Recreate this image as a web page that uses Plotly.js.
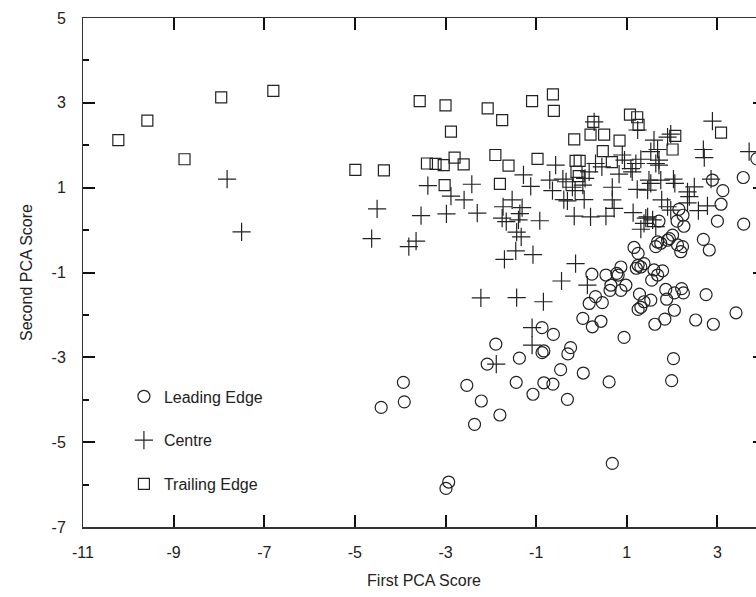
<!DOCTYPE html>
<html><head><meta charset="utf-8">
<script src="https://cdn.plot.ly/plotly-3.0.1.min.js"></script>
<style>html,body{margin:0;padding:0;overflow:hidden;background:#fff}#chart{width:800px;height:597px}</style>
</head><body><div id="chart"></div>
<script>
// Leading Edge (circles)
const leadingX = [-0.87,-0.62,-1.89,-1.37,-0.87,-0.83,-2.08,-3.93,-3.91,-4.42,-2.53,-2.21,-1.44,-1.07,-0.83,-0.63,-1.80,-2.36,-0.31,0.61,1.99,0.68,-2.93,-2.99,-0.46,0.04,-0.24,-0.30,2.03,3.41,2.75,2.52,2.91,1.62,1.84,0.94,0.03,0.24,0.43,0.31,0.17,0.46,1.28,1.38,1.25,1.31,1.53,1.86,1.88,2.05,2.21,2.25,2.05,0.87,0.78,0.81,0.54,0.98,0.65,0.63,0.87,0.23,1.25,1.31,1.21,1.38,1.60,1.68,1.79,1.55,1.16,1.25,1.68,1.64,1.75,1.90,2.01,1.94,2.12,2.23,2.19,2.69,2.82,2.15,2.24,2.11,2.26,2.89,3.57,3.12,3.08,3.00,3.58,3.87,1.71];
const leadingY = [-2.30,-2.46,-2.69,-3.02,-2.89,-2.85,-3.16,-3.59,-4.05,-4.18,-3.66,-4.03,-3.59,-3.87,-3.60,-3.63,-4.36,-4.58,-3.99,-3.58,-3.55,-5.50,-5.94,-6.09,-3.29,-3.37,-2.77,-2.92,-3.03,-1.95,-1.52,-2.12,-2.22,-2.22,-2.10,-2.53,-2.08,-2.28,-2.15,-1.57,-1.73,-1.71,-1.51,-1.69,-1.87,-1.82,-1.65,-1.40,-1.63,-1.48,-1.38,-1.48,-1.89,-0.87,-1.02,-1.06,-1.06,-1.30,-1.30,-1.42,-1.42,-1.04,-0.83,-0.87,-0.90,-0.79,-0.94,-1.06,-0.96,-1.18,-0.41,-0.55,-0.28,-0.39,-0.31,-0.24,-0.12,-0.20,-0.35,-0.39,-0.51,-0.22,-0.47,0.49,0.35,0.21,0.09,1.18,1.24,0.93,0.61,0.21,0.14,1.68,0.21];

// Centre (crosses)
const centreX = [-7.82,-7.50,-4.51,-4.63,-3.65,-3.81,-3.54,-3.39,-2.98,-2.88,-2.59,-2.42,-2.30,-2.22,-1.75,-1.66,-1.73,-1.53,-1.31,-1.36,-1.39,-1.28,-1.12,-0.92,-1.43,-1.33,-1.45,-1.70,-1.07,-1.43,-0.84,-1.09,-1.09,-1.88,-0.57,-0.70,-0.41,-0.34,-0.64,-0.20,-0.14,0.03,0.68,1.23,1.49,-0.39,-0.31,0.06,0.68,0.72,-0.16,0.20,0.54,1.14,1.42,0.28,1.24,1.60,1.53,0.90,0.95,1.31,1.20,0.31,0.45,1.09,1.12,0.83,0.17,0.08,2.89,2.69,2.71,3.70,1.90,1.97,1.68,1.71,1.64,1.71,1.46,1.53,1.75,2.03,2.06,1.77,1.90,2.34,2.38,2.49,2.34,2.58,2.78,2.86,1.46,1.38,1.31,1.57,1.64,-0.13,-0.44,0.13,1.97];
const centreY = [1.20,-0.04,0.50,-0.20,-0.26,-0.39,0.34,1.05,0.38,0.80,0.71,1.08,0.40,-1.60,0.28,0.20,0.55,0.71,0.53,0.39,0.24,1.30,1.03,0.22,-0.05,-0.16,-0.49,-0.69,-0.58,-1.59,-1.69,-2.30,-2.71,-3.16,1.53,1.18,1.20,1.14,0.93,1.01,0.93,1.06,1.01,0.96,1.18,0.72,0.69,0.72,0.71,0.51,0.33,0.31,0.33,0.41,0.28,2.55,2.36,2.12,1.85,1.77,1.65,1.67,1.57,1.57,1.49,1.45,1.37,1.32,1.37,1.22,2.57,1.90,1.71,1.85,2.19,2.26,1.90,1.65,1.57,1.53,0.94,1.10,1.18,1.20,1.10,0.71,0.55,0.90,0.79,1.02,0.64,0.46,0.57,1.20,0.31,0.16,0.02,0.24,0.08,-0.79,-1.20,-1.30,0.47];

// Trailing Edge (squares)
const trailingX = [-10.22,-9.58,-8.76,-7.95,-6.80,-4.99,-4.36,-3.57,-3.00,-2.07,-1.75,-2.88,-1.09,-0.63,-0.61,-3.41,-3.22,-3.04,-2.80,-2.60,-3.02,-1.90,-1.61,-1.80,-0.97,0.26,1.07,1.23,1.26,-0.16,0.20,0.50,0.84,2.07,3.08,2.01,0.47,-0.13,-0.04,0.67,-0.11,-0.06];
const trailingY = [2.12,2.58,1.67,3.13,3.28,1.42,1.41,3.04,2.94,2.87,2.59,2.32,3.04,3.20,2.81,1.57,1.56,1.53,1.71,1.55,1.06,1.77,1.52,1.09,1.68,2.55,2.72,2.66,2.48,2.14,2.25,2.25,2.11,2.22,2.30,1.90,1.86,1.63,1.63,1.60,1.37,1.27];

const seriesNames = ['Leading Edge', 'Centre', 'Trailing Edge'];

// Tick values and labels (hyphen-minus as in the original)
const xTickVals = [-11, -9, -7, -5, -3, -1, 1, 3];
const xTickText = ['-11', '-9', '-7', '-5', '-3', '-1', '1', '3'];
const yTickVals = [-7, -5, -3, -1, 1, 3, 5];
const yTickText = ['-7', '-5', '-3', '-1', '1', '3', '5'];
const yMinorVals = [-6, -4, -2, 0, 2, 4];
const xRange = [-11, 4.05];
const yRange = [-7, 5];

const ink = '#222';

const traces = [
  {x: leadingX, y: leadingY, name: seriesNames[0], legendgroup: 'a', type: 'scatter', mode: 'markers',
   marker: {symbol: 'circle-open', size: 12, color: ink, line: {width: 1.2, color: ink}}},
  {x: centreX, y: centreY, name: seriesNames[1], legendgroup: 'b', type: 'scatter', mode: 'markers',
   marker: {symbol: 'cross-thin-open', size: 13, color: ink, line: {width: 1.2, color: ink}}},
  {x: trailingX, y: trailingY, name: seriesNames[2], legendgroup: 'c', type: 'scatter', mode: 'markers',
   marker: {symbol: 'square-open', size: 11, color: ink, line: {width: 1.2, color: ink}}},
  // empty traces so the overlay axes (labels, top ticks, minor ticks, right ticks) are created
  {x: [], y: [], xaxis: 'x2', yaxis: 'y2', type: 'scatter', mode: 'markers', showlegend: false, hoverinfo: 'skip'},
  {x: [], y: [], xaxis: 'x3', yaxis: 'y3', type: 'scatter', mode: 'markers', showlegend: false, hoverinfo: 'skip'},
  {x: [], y: [], xaxis: 'x3', yaxis: 'y4', type: 'scatter', mode: 'markers', showlegend: false, hoverinfo: 'skip'}
];

const tickStyle = {ticks: 'inside', tickwidth: 2, tickcolor: '#111', showticklabels: false,
                   showgrid: false, zeroline: false, tickmode: 'array'};

// Label axes: only tick labels and titles; invisible outside ticks give the label gap
const labelAxis = {
  tickmode: 'array', ticks: 'outside', tickcolor: 'rgba(0,0,0,0)', tickwidth: 1,
  showline: false, showgrid: false, zeroline: false,
  tickfont: {size: 16, color: '#222'}
};

const layout = {
  width: 800, height: 597,
  margin: {l: 83, r: 35, t: 18, b: 70},
  paper_bgcolor: '#fff', plot_bgcolor: '#fff',
  font: {family: 'Liberation Sans, Arial, sans-serif', size: 16, color: '#222'},
  showlegend: true,
  legend: {x: 0.06, y: 0.29, xanchor: 'left', yanchor: 'top', bgcolor: 'rgba(0,0,0,0)',
           font: {size: 16, color: '#222'}, tracegroupgap: 20, traceorder: 'grouped'},
  // frame: box lines, bottom and left major ticks
  xaxis: Object.assign({}, tickStyle, {range: xRange, tickvals: xTickVals, ticklen: 12,
    showline: true, linecolor: '#333', linewidth: 1.5, mirror: true}),
  yaxis: Object.assign({}, tickStyle, {range: yRange, tickvals: yTickVals, ticklen: 12,
    showline: true, linecolor: '#333', linewidth: 1.5, mirror: true}),
  // labels and titles
  xaxis2: Object.assign({}, labelAxis, {
    overlaying: 'x', anchor: 'y', side: 'bottom', range: xRange, ticklen: 11,
    tickvals: xTickVals, ticktext: xTickText,
    title: {text: 'First PCA Score', font: {size: 16, color: '#222'}, standoff: 14}
  }),
  yaxis2: Object.assign({}, labelAxis, {
    overlaying: 'y', anchor: 'x', side: 'left', range: yRange, ticklen: 13,
    tickvals: yTickVals, ticktext: yTickText,
    title: {text: 'Second PCA Score', font: {size: 16, color: '#222'}, standoff: 14}
  }),
  // top ticks
  xaxis3: Object.assign({}, tickStyle, {overlaying: 'x', anchor: 'y', side: 'top', range: xRange,
    tickvals: xTickVals, ticklen: 12, showline: false}),
  // left minor ticks
  yaxis3: Object.assign({}, tickStyle, {overlaying: 'y', anchor: 'x', side: 'left', range: yRange,
    tickvals: yMinorVals, ticklen: 6, showline: false}),
  // right major ticks
  yaxis4: Object.assign({}, tickStyle, {overlaying: 'y', anchor: 'x', side: 'right', range: yRange,
    tickvals: yTickVals, ticklen: 12, showline: false})
};

Plotly.newPlot('chart', traces, layout, {displayModeBar: false, staticPlot: true});
</script>
</body></html>
